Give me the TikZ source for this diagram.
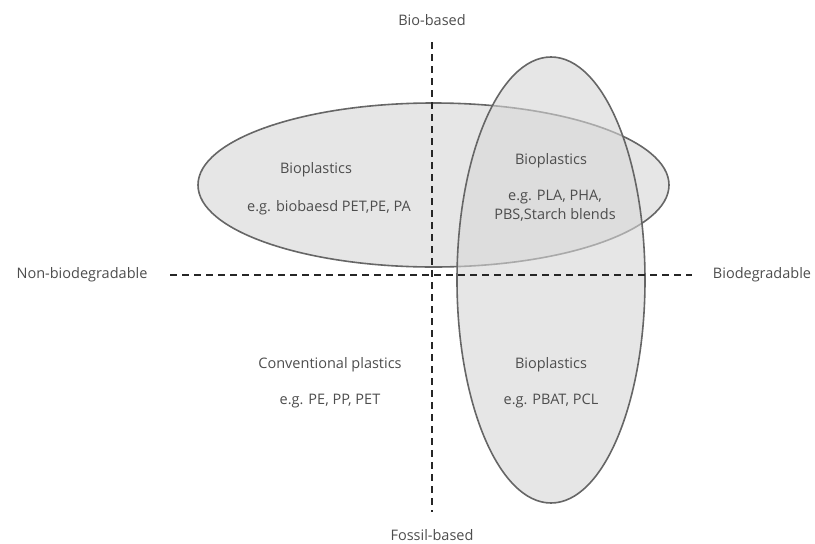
\documentclass[tikz,border=0pt]{standalone}
\usepackage{fontspec}
\setmainfont{Open Sans}
\usepackage{tikz}
\usetikzlibrary{positioning}

\definecolor{txtgray}{HTML}{4D4D4D}
\definecolor{edgegray}{HTML}{666666}
\definecolor{fillgray}{HTML}{D6D6D6}

\begin{document}
\begin{tikzpicture}[x=1pt, y=-1pt, font=\fontsize{14.5}{19}\selectfont, text=txtgray,
	blob/.style={draw=edgegray, line width=1.6pt, fill=fillgray, fill opacity=0.6},
	axis/.style={draw=black!85, line width=1.6pt, dash pattern=on 7pt off 5pt},
	lbl/.style={inner sep=1pt, align=center}]
	\useasboundingbox (0,0) rectangle (815,544);
	
	% the two groups
	\draw[blob] (433.5,185) ellipse [x radius=235.5, y radius=82];
	\draw[blob] (551,280) ellipse [x radius=94, y radius=223];
	
	% axes ends
	\coordinate (top) at (432,42);
	\coordinate (bot) at (432,512);
	\coordinate (lft) at (170,275);
	\coordinate (rgt) at (692,275);
	\draw[axis] (top) -- (bot);
	\draw[axis] (lft) -- (rgt);
	
	\node[lbl] (bio) at (432,20) {Bio-based};
	\node[lbl] (fos) at (432,535) {Fossil-based};
	\node[lbl] (nbd) at (82,275) {Non-biodegradable};
	\node[lbl] (bdg) at (762,275) {Biodegradable};
	
	\node[lbl] (q1a) at (316,170) {Bioplastics};
	\node[lbl] (q1b) at (329,208) {e.g. biobaesd PET,PE, PA};
	\node[lbl] (q2a) at (551,161) {Bioplastics};
	\node[lbl] (q2b) at (555,206) {e.g. PLA, PHA,\\PBS,Starch blends};
	\node[lbl] (q3a) at (330,365) {Conventional plastics};
	\node[lbl] (q3b) at (330,401) {e.g. PE, PP, PET};
	\node[lbl] (q4a) at (551,365) {Bioplastics};
	\node[lbl] (q4b) at (551,401) {e.g. PBAT, PCL};
\end{tikzpicture}
\end{document}
